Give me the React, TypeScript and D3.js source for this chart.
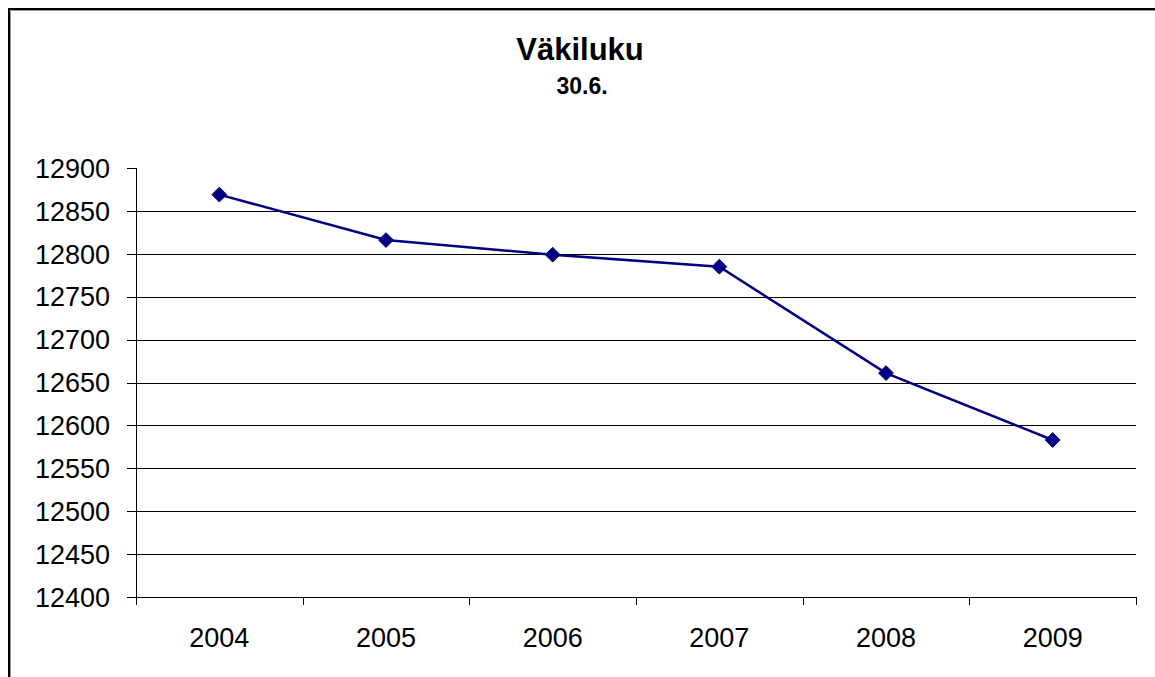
import React, { useRef, useEffect } from 'react';
import * as d3 from 'd3';

const years = ['2004', '2005', '2006', '2007', '2008', '2009'];
const population = [12869, 12816, 12799, 12785, 12661, 12583];
const yTicks = [12400, 12450, 12500, 12550, 12600, 12650, 12700, 12750, 12800, 12850, 12900];

const W = 1155;
const H = 677;
const plot = { left: 136, right: 1136, top: 168, bottom: 597 };
const FONT = 'Liberation Sans, Arial, sans-serif';

const App = () => {
  const ref = useRef<SVGSVGElement>(null);

  useEffect(() => {
    const svg = d3.select(ref.current);
    svg.selectAll('*').remove();

    const x = d3.scaleBand<string>().domain(years).range([plot.left, plot.right]).padding(0);
    const y = d3.scaleLinear().domain([12400, 12900]).range([plot.bottom, plot.top]);

    svg.append('rect').attr('width', W).attr('height', H).attr('fill', '#fff');

    // outer frame (runs off the page on the right and bottom)
    svg.append('rect')
      .attr('x', 9).attr('y', 9).attr('width', W + 20).attr('height', H + 20)
      .attr('fill', 'none').attr('stroke', '#000').attr('stroke-width', 2);
    svg.append('path')
      .attr('d', `M10.5,${H + 10}V10.5H${W + 10}`)
      .attr('fill', 'none').attr('stroke', '#999').attr('stroke-width', 1);

    // title
    svg.append('text')
      .attr('x', 580).attr('y', 60)
      .attr('text-anchor', 'middle')
      .style('font-family', FONT).style('font-weight', 'bold').style('font-size', '31px')
      .text('Väkiluku');
    svg.append('text')
      .attr('x', 582).attr('y', 94)
      .attr('text-anchor', 'middle')
      .style('font-family', FONT).style('font-weight', 'bold').style('font-size', '23px')
      .text('30.6.');

    // gridlines (no line at the top value)
    svg.append('g')
      .selectAll('line')
      .data(yTicks.filter(t => t !== 12900 && t !== 12400))
      .enter()
      .append('line')
      .attr('x1', plot.left).attr('x2', plot.right)
      .attr('y1', d => Math.round(y(d)) + 0.5).attr('y2', d => Math.round(y(d)) + 0.5)
      .attr('stroke', '#000').attr('stroke-width', 1);

    // y axis
    const yAxis = svg.append('g');
    yAxis.append('line')
      .attr('x1', plot.left + 0.5).attr('x2', plot.left + 0.5)
      .attr('y1', plot.top).attr('y2', plot.bottom + 7)
      .attr('stroke', '#000');
    yAxis.selectAll('line.tick')
      .data(yTicks)
      .enter()
      .append('line')
      .attr('class', 'tick')
      .attr('x1', plot.left - 9).attr('x2', plot.left)
      .attr('y1', d => Math.round(y(d)) + 0.5).attr('y2', d => Math.round(y(d)) + 0.5)
      .attr('stroke', '#000');
    yAxis.selectAll('text')
      .data(yTicks)
      .enter()
      .append('text')
      .attr('x', 110)
      .attr('y', d => y(d))
      .attr('dy', '0.36em')
      .attr('text-anchor', 'end')
      .style('font-family', FONT).style('font-size', '27px')
      .text(d => d);

    // x axis
    const xAxis = svg.append('g');
    xAxis.append('line')
      .attr('x1', plot.left).attr('x2', plot.right + 0.5)
      .attr('y1', plot.bottom + 0.5).attr('y2', plot.bottom + 0.5)
      .attr('stroke', '#000');
    const bounds = [...years.map(d => x(d) as number), plot.right];
    xAxis.selectAll('line.tick')
      .data(bounds)
      .enter()
      .append('line')
      .attr('class', 'tick')
      .attr('x1', d => Math.round(d) + 0.5).attr('x2', d => Math.round(d) + 0.5)
      .attr('y1', plot.bottom).attr('y2', plot.bottom + 8)
      .attr('stroke', '#000');
    xAxis.selectAll('text')
      .data(years)
      .enter()
      .append('text')
      .attr('x', d => (x(d) as number) + x.bandwidth() / 2)
      .attr('y', 647)
      .attr('text-anchor', 'middle')
      .style('font-family', FONT).style('font-size', '27px')
      .text(d => d);

    // series
    const pts = years.map((d, i) => [(x(d) as number) + x.bandwidth() / 2, y(population[i])] as [number, number]);
    svg.append('path')
      .attr('d', d3.line()(pts))
      .attr('fill', 'none').attr('stroke', '#000080').attr('stroke-width', 2.5);

    const diamond = d3.symbol().type(d3.symbolDiamond2).size(140);
    svg.selectAll('path.marker')
      .data(pts)
      .enter()
      .append('path')
      .attr('class', 'marker')
      .attr('transform', d => `translate(${d[0]},${d[1]})`)
      .attr('d', diamond())
      .attr('fill', '#000080').attr('stroke', '#000080').attr('stroke-width', 1);
  }, []);

  return (
    <svg ref={ref} width={W} height={H} style={{ position: 'absolute', left: 0, top: 0 }}></svg>
  );
};

export default App;
